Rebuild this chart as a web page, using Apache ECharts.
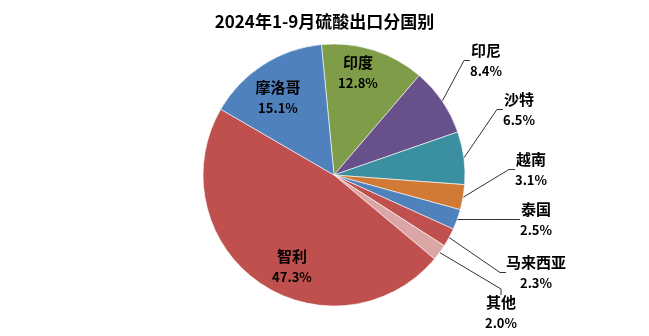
<!DOCTYPE html>
<html>
<head>
<meta charset="utf-8">
<script src="https://cdn.jsdelivr.net/npm/echarts@6/dist/echarts.min.js"></script>
<style>
html,body{margin:0;padding:0;background:#fff;}
#chart{width:649px;height:336px;}
</style>
</head>
<body>
<div id="chart"></div>
<script>
// ---- data ----
const titleText = '2024年1-9月硫酸出口分国别';
const countries = ['印度', '印尼', '沙特', '越南', '泰国', '马来西亚', '其他', '智利', '摩洛哥'];
const shares = [12.8, 8.4, 6.5, 3.1, 2.5, 2.3, 2.0, 47.3, 15.1];

// ---- styling / layout (not data) ----
const colors = ['#7F9D48', '#68518A', '#3A8FA1', '#D07A35', '#4F81BD', '#C0504D', '#DBA7A6', '#C0504D', '#4F81BD'];
const insideSet = { '印度': true, '智利': true, '摩洛哥': true };
// label block centres (text layout only)
const labelPos = {
  '印度': [358, 73],
  '摩洛哥': [278, 98],
  '智利': [292, 267],
  '印尼': [486, 61],
  '沙特': [519, 110],
  '越南': [531, 170],
  '泰国': [536, 220],
  '马来西亚': [536, 273],
  '其他': [501, 313]
};

const chart = echarts.init(document.getElementById('chart'), null, { renderer: 'canvas' });

const data = countries.map((name, i) => {
  const inside = !!insideSet[name];
  return {
    name: name,
    value: shares[i],
    itemStyle: { color: colors[i] },
    label: { position: inside ? 'inside' : 'outside' },
    labelLine: { show: !inside }
  };
});

const option = {
  animation: false,
  backgroundColor: '#fff',
  title: {
    text: titleText,
    left: 'center',
    top: 8,
    textStyle: {
      fontFamily: '"Noto Sans CJK SC", sans-serif',
      fontSize: 17,
      fontWeight: 'bold',
      color: '#000'
    }
  },
  series: [{
    type: 'pie',
    center: [334, 175],
    radius: 131,
    startAngle: 95.5,
    clockwise: true,
    avoidLabelOverlap: false,
    itemStyle: { borderColor: '#fff', borderWidth: 0.6 },
    label: {
      show: true,
      formatter: p => '{n|' + p.name + '}\n{p|' + p.value.toFixed(1) + '%}',
      rich: {
        n: { fontFamily: '"Noto Sans CJK SC", sans-serif', fontSize: 15, fontWeight: 'bold', color: '#000', lineHeight: 21, align: 'center' },
        p: { fontFamily: '"Noto Sans CJK SC", sans-serif', fontSize: 13, fontWeight: 'bold', color: '#000', lineHeight: 21, align: 'center' }
      }
    },
    labelLine: {
      length: 15,
      length2: 6,
      lineStyle: { color: '#333', width: 1 }
    },
    labelLayout: function (params) {
      const name = countries[params.dataIndex];
      const pos = labelPos[name];
      return { x: pos[0], y: pos[1], align: 'center', verticalAlign: 'middle' };
    },
    data: data
  }]
};
chart.setOption(option);
</script>
</body>
</html>
